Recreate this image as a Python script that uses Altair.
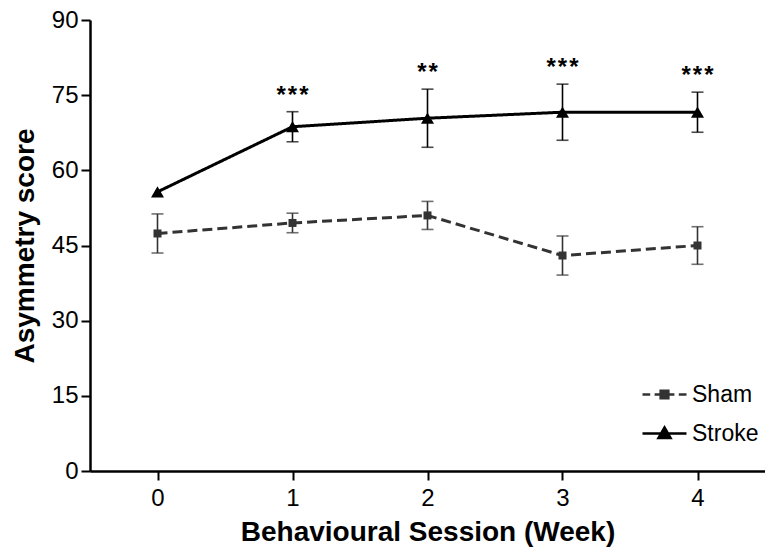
import altair as alt
import pandas as pd

weeks = [0, 1, 2, 3, 4]
sham_mean = [47.4, 49.5, 51.0, 43.0, 45.0]
sham_err = [3.9, 1.95, 2.8, 3.9, 3.75]
stroke_mean = [55.7, 68.7, 70.4, 71.6, 71.6]
stroke_err = [0.0, 3.0, 5.8, 5.6, 4.0]
stroke_sig = ["", "***", "**", "***", "***"]
series_names = ["Sham", "Stroke"]
series_colors = ["#333333", "#000000"]
y_ticks = [0, 15, 30, 45, 60, 75, 90]

rows = []
for w, m, e in zip(weeks, sham_mean, sham_err):
    rows.append(dict(week=w, series="Sham", mean=m, err=e, lo=m - e, hi=m + e, sig=""))
for w, m, e, s in zip(weeks, stroke_mean, stroke_err, stroke_sig):
    rows.append(dict(week=w, series="Stroke", mean=m, err=e, lo=m - e, hi=m + e,
                     sig="\u200a".join(list(s))))
df = pd.DataFrame(rows)

FONT = "Liberation Sans"
xscale = alt.Scale(domain=[-0.5, 4.5], nice=False, zero=False)
yscale = alt.Scale(domain=[0, 90], nice=False)
xaxis = alt.Axis(values=weeks, title="Behavioural Session (Week)", format="d")
yaxis = alt.Axis(values=y_ticks, title="Asymmetry score")

def X():
    return alt.X("week:Q", scale=xscale, axis=xaxis)

def Y(field):
    return alt.Y(field, scale=yscale, axis=yaxis)

color = alt.Color("series:N", scale=alt.Scale(domain=series_names, range=series_colors), legend=None)

base = alt.Chart(df)
errs = base.transform_filter("datum.err > 0")

err_rule = errs.mark_rule(strokeWidth=1.6).encode(x=X(), y=Y("lo:Q"), y2="hi:Q", color=color)
cap_lo = errs.mark_tick(orient="horizontal", size=12, thickness=1.6).encode(x=X(), y=Y("lo:Q"), color=color)
cap_hi = errs.mark_tick(orient="horizontal", size=12, thickness=1.6).encode(x=X(), y=Y("hi:Q"), color=color)

lines = base.mark_line(strokeWidth=3).encode(
    x=X(), y=Y("mean:Q"), color=color,
    strokeDash=alt.StrokeDash("series:N", scale=alt.Scale(domain=series_names, range=[[10, 5], [1, 0]]), legend=None),
)

pts_sham = base.transform_filter("datum.series == 'Sham'").mark_point(
    filled=True, opacity=1, shape="square", size=64, color="#333333"
).encode(x=X(), y=Y("mean:Q"))
pts_stroke = base.transform_filter("datum.series == 'Stroke'").mark_point(
    filled=True, opacity=1, shape="triangle-up", size=169, color="#000000"
).encode(x=X(), y=Y("mean:Q"))

stars = base.transform_filter("datum.sig != ''").mark_text(
    dy=-16, fontSize=24, fontWeight="bold", font=FONT, color="black", baseline="middle"
).encode(x=X(), y=Y("hi:Q"), text="sig:N")

sham_path = ("M-2,0L-1.3,0M-0.9,0L-0.4,0M0.4,0L0.9,0M1.3,0L2,0"
             "M-0.35,-0.35L0.35,-0.35L0.35,0.35L-0.35,0.35Z")
stroke_path = "M-2,0L2,0M0,-0.55L0.55,0.4L-0.55,0.4Z"

leg = alt.Legend(title=None, orient="none", legendX=562, legendY=362,
                 symbolSize=484, symbolStrokeWidth=2.5, symbolOpacity=1,
                 labelFont=FONT, labelFontSize=23, labelColor="black",
                 labelOffset=15, rowPadding=14, padding=0)

legend_layer = base.mark_point(filled=True, size=0, strokeWidth=2.5).encode(
    x=X(), y=Y("mean:Q"),
    shape=alt.Shape("series:N", scale=alt.Scale(domain=series_names, range=[sham_path, stroke_path]), legend=leg),
    fill=alt.Fill("series:N", scale=alt.Scale(domain=series_names, range=series_colors), legend=leg),
    stroke=alt.Stroke("series:N", scale=alt.Scale(domain=series_names, range=series_colors), legend=leg),
)

chart = alt.layer(err_rule, cap_lo, cap_hi, lines, pts_sham, pts_stroke, stars, legend_layer).resolve_scale(
    shape="independent", fill="independent", stroke="independent"
).properties(
    width=675, height=451,
    autosize=alt.AutoSizeParams(type="none"),
    padding={"left": 90, "top": 20, "right": 0, "bottom": 82},
).configure_view(stroke=None).configure_axis(
    grid=False, domainColor="black", domainWidth=2.5, tickColor="black", tickWidth=2, tickSize=9,
    labelFont=FONT, labelFontSize=24, labelColor="black",
    titleFont=FONT, titleFontSize=28, titleFontWeight="bold", titleColor="black",
).configure_axisY(labelPadding=3, titlePadding=12).configure_axisX(labelPadding=6, titlePadding=8)

chart.save("out.html", embed_options={"renderer": "svg", "actions": False})
